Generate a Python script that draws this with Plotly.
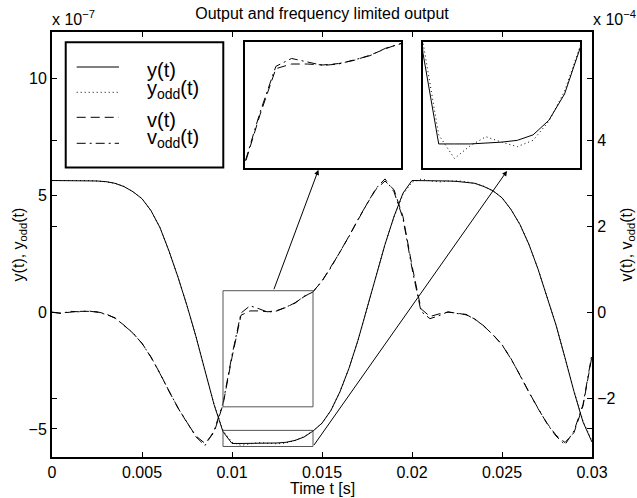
import plotly.graph_objects as go

# ---------------- data ----------------
t = [0.0000, 0.0005, 0.0010, 0.0015, 0.0020, 0.0025, 0.0030, 0.0035, 0.0040, 0.0045,
     0.0050, 0.0055, 0.0060, 0.0065, 0.0070, 0.0075, 0.0080, 0.0085, 0.0090, 0.0095,
     0.0100, 0.0105, 0.0110, 0.0115, 0.0120, 0.0125, 0.0130, 0.0135, 0.0140, 0.0145,
     0.0150, 0.0155, 0.0160, 0.0165, 0.0170, 0.0175, 0.0180, 0.0185, 0.0190, 0.0195,
     0.0200, 0.0205, 0.0210, 0.0215, 0.0220, 0.0225, 0.0230, 0.0235, 0.0240, 0.0245,
     0.0250, 0.0255, 0.0260, 0.0265, 0.0270, 0.0275, 0.0280, 0.0285, 0.0290, 0.0295,
     0.0300]

# y(t) in units of 1e-7
y_e7 = [5.64, 5.64, 5.64, 5.64, 5.63, 5.62, 5.59, 5.52, 5.38, 5.16,
        4.86, 4.35, 3.62, 2.62, 1.50, 0.28, -1.05, -2.50, -3.95, -5.12,
        -5.62, -5.62, -5.62, -5.615, -5.61, -5.60, -5.57, -5.49, -5.345, -5.09,
        -4.75, -4.20, -3.40, -2.40, -1.20, 0.15, 1.50, 2.90, 4.10, 5.10,
        5.64, 5.64, 5.64, 5.63, 5.62, 5.60, 5.57, 5.52, 5.38, 5.20,
        4.90, 4.40, 3.75, 2.90, 1.85, 0.70, -0.55, -1.95, -3.40, -4.70,
        -5.56]

# y_odd(t) in units of 1e-7
y_odd_e7 = [5.64, 5.65, 5.63, 5.64, 5.64, 5.62, 5.59, 5.52, 5.39, 5.15,
            4.87, 4.34, 3.63, 2.61, 1.51, 0.27, -1.04, -2.51, -3.93, -5.06,
            -5.57, -5.70, -5.63, -5.58, -5.61, -5.635, -5.60, -5.495, -5.33, -5.08,
            -4.76, -4.19, -3.41, -2.39, -1.21, 0.16, 1.49, 2.91, 4.08, 5.05,
            5.57, 5.70, 5.63, 5.58, 5.61, 5.63, 5.59, 5.51, 5.39, 5.19,
            4.91, 4.39, 3.76, 2.89, 1.86, 0.69, -0.54, -1.96, -3.38, -4.66,
            -5.52]

# v(t) in units of 1e-4
v_e4 = [0.00, -0.02, 0.00, 0.02, 0.02, 0.01, -0.04, -0.14, -0.30, -0.49,
        -0.72, -1.05, -1.42, -1.84, -2.22, -2.57, -2.88, -3.05, -2.80, -2.15,
        -1.05, -0.07, 0.03, 0.03, 0.01, 0.04, 0.11, 0.22, 0.36, 0.48,
        0.72, 1.05, 1.40, 1.77, 2.15, 2.52, 2.86, 3.05, 2.85, 2.22,
        1.08, 0.08, -0.10, -0.04, 0.00, -0.02, -0.06, -0.16, -0.33, -0.52,
        -0.76, -1.08, -1.47, -1.86, -2.24, -2.58, -2.86, -3.03, -2.80, -2.18,
        -1.02]

# v_odd(t) in units of 1e-4
v_odd_e4 = [0.00, -0.03, 0.02, 0.01, 0.03, 0.00, -0.05, -0.13, -0.31, -0.48,
            -0.73, -1.04, -1.43, -1.83, -2.23, -2.56, -2.90, -3.10, -2.76, -2.12,
            -1.00, -0.02, 0.15, 0.08, 0.00, 0.03, 0.12, 0.21, 0.37, 0.47,
            0.73, 1.04, 1.41, 1.76, 2.16, 2.51, 2.88, 3.10, 2.80, 2.18,
            1.02, 0.02, -0.15, -0.08, 0.01, -0.03, -0.05, -0.17, -0.32, -0.53,
            -0.75, -1.09, -1.46, -1.87, -2.23, -2.59, -2.88, -3.08, -2.76, -2.15,
            -0.97]

x_tickvals = [0, 0.005, 0.01, 0.015, 0.02, 0.025, 0.03]
x_ticktext = ["0", "0.005", "0.01", "0.015", "0.02", "0.025", "0.03"]
yl_tickvals = [-5, 0, 5, 10]
yr_tickvals = [-2, 0, 2, 4]

series_names = ["y(t)", "y<sub>odd</sub>(t)", "v(t)", "v<sub>odd</sub>(t)"]

# zoom windows (time and value ranges) shown in the insets
zoom_t = [0.0095, 0.0145]
zoomA_v = [-2.2, 0.5]      # v window, units 1e-4
zoomB_y = [-5.75, -5.06]   # y window, units 1e-7

# ---------------- styles ----------------
FONT = "Arial, Liberation Sans, sans-serif"
DOT = "1px,3px"
DASH = "9px,5px"
DASHDOT = "9px,4px,2px,4px"
styles = [dict(color="black", width=1, dash="solid"),
          dict(color="black", width=1, dash=DOT),
          dict(color="black", width=1, dash=DASH),
          dict(color="black", width=1, dash=DASHDOT)]

W, H = 637, 498
ML, MR, MT, MB = 52, 45, 32, 41
PW, PH = W - ML - MR, H - MT - MB


def px2paper(px, py):
    return (px - ML) / PW, (H - MB - py) / PH


fig = go.Figure()

# main plot
fig.add_trace(go.Scatter(x=t, y=y_e7, mode="lines", line=styles[0], xaxis="x", yaxis="y", showlegend=False))
fig.add_trace(go.Scatter(x=t, y=y_odd_e7, mode="lines", line=styles[1], xaxis="x", yaxis="y", showlegend=False))
fig.add_trace(go.Scatter(x=t, y=v_e4, mode="lines", line=styles[2], xaxis="x", yaxis="y2", showlegend=False))
fig.add_trace(go.Scatter(x=t, y=v_odd_e4, mode="lines", line=styles[3], xaxis="x", yaxis="y2", showlegend=False))
# inset 2: v, v_odd zoom
fig.add_trace(go.Scatter(x=t, y=v_e4, mode="lines", line=styles[2], xaxis="x3", yaxis="y3", showlegend=False))
fig.add_trace(go.Scatter(x=t, y=v_odd_e4, mode="lines", line=styles[3], xaxis="x3", yaxis="y3", showlegend=False))
# inset 3: y, y_odd zoom
fig.add_trace(go.Scatter(x=t, y=y_e7, mode="lines", line=styles[0], xaxis="x4", yaxis="y4", showlegend=False))
fig.add_trace(go.Scatter(x=t, y=y_odd_e7, mode="lines", line=styles[1], xaxis="x4", yaxis="y4", showlegend=False))

tickfont = dict(family=FONT, size=16, color="black")
common = dict(showgrid=False, zeroline=False, showline=True, linecolor="black",
              linewidth=2, ticks="inside", ticklen=5, tickwidth=1, tickcolor="black",
              tickfont=tickfont, automargin=False)

inset_ax = dict(showgrid=False, zeroline=False, showline=True, linecolor="black",
                linewidth=2, mirror=True, ticks="", showticklabels=False, automargin=False)

yl_range = [-6.2, 12]
yr_range = [-3.367, 6.516]

ins_y = [0.681, 0.976]
ins2_x = [0.3565, 0.6469]
ins3_x = [0.6870, 0.9783]
leg_x = [0.0254, 0.3172]

fig.update_layout(
    width=W, height=H, autosize=False,
    margin=dict(l=ML, r=MR, t=MT, b=MB, pad=0, autoexpand=False),
    paper_bgcolor="white", plot_bgcolor="white",
    font=dict(family=FONT, size=16, color="black"),
    title=dict(text="Output and frequency limited output", x=0.5, xref="paper",
               y=1 - 13 / H, yref="container", xanchor="center", yanchor="middle",
               font=dict(family=FONT, size=16, color="black")),
    xaxis=dict(range=[0, 0.03], tickvals=x_tickvals, ticktext=x_ticktext, mirror="ticks",
               ticklabelstandoff=0, **common),
    yaxis=dict(range=yl_range, tickvals=yl_tickvals, mirror="ticks",
               title=dict(text="y(t), y<sub>odd</sub>(t)", standoff=0, font=dict(family=FONT, size=16)),
               **common),
    yaxis2=dict(range=yr_range, tickvals=yr_tickvals, overlaying="y", side="right", mirror="ticks",
                title=dict(text="v(t), v<sub>odd</sub>(t)", standoff=10, font=dict(family=FONT, size=16)),
                **common),
    xaxis3=dict(domain=ins2_x, anchor="y3", range=zoom_t, **inset_ax),
    yaxis3=dict(domain=ins_y, anchor="x3", range=zoomA_v, **inset_ax),
    xaxis4=dict(domain=ins3_x, anchor="y4", range=zoom_t, **inset_ax),
    yaxis4=dict(domain=ins_y, anchor="x4", range=zoomB_y, **inset_ax),
)

shapes = []
# zoom rectangles in the main plot
shapes.append(dict(type="rect", xref="x", yref="y2", x0=zoom_t[0], x1=zoom_t[1],
                   y0=zoomA_v[0], y1=zoomA_v[1], line=dict(color="#555555", width=1)))
shapes.append(dict(type="rect", xref="x", yref="y", x0=zoom_t[0], x1=zoom_t[1],
                   y0=zoomB_y[0], y1=zoomB_y[1], line=dict(color="#555555", width=1)))
# legend box
shapes.append(dict(type="rect", xref="paper", yref="paper", x0=leg_x[0], x1=leg_x[1],
                   y0=ins_y[0], y1=ins_y[1], line=dict(color="black", width=2),
                   fillcolor="white", layer="below"))

annotations = []
leg_line_py = [67, 92.3, 117.3, 143.3]
leg_text_py = [70, 89, 120, 138]
for i, name in enumerate(series_names):
    xa, ya = px2paper(76.7, leg_line_py[i])
    xb, _ = px2paper(119, leg_line_py[i])
    shapes.append(dict(type="line", xref="paper", yref="paper", x0=xa, x1=xb, y0=ya, y1=ya,
                       line=styles[i]))
    xt, yt = px2paper(145, leg_text_py[i])
    annotations.append(dict(text=name, xref="paper", yref="paper", x=xt, y=yt,
                            xanchor="left", yanchor="middle", showarrow=False,
                            font=dict(family=FONT, size=20, color="black")))

# x-axis title
_, ytit = px2paper(0, 489)
annotations.append(dict(text="Time t [s]", xref="paper", yref="paper", x=0.5, y=ytit,
                        xanchor="center", yanchor="middle", showarrow=False,
                        font=dict(family=FONT, size=16, color="black")))

# arrows from zoom rectangles to insets
arrowA_tail = (0.0123, zoomA_v[1])
arrowA_head = (0.0148, 3.31)
arrowB_tail = (zoom_t[1], zoomB_y[0])
arrowB_head = (0.02528, 6.05)
annotations.append(dict(x=arrowA_head[0], y=arrowA_head[1], xref="x", yref="y2",
                        ax=arrowA_tail[0], ay=arrowA_tail[1], axref="x", ayref="y2",
                        text="", showarrow=True, arrowhead=2, arrowsize=1, arrowwidth=1,
                        arrowcolor="black", standoff=0, startstandoff=0))
annotations.append(dict(x=arrowB_head[0], y=arrowB_head[1], xref="x", yref="y",
                        ax=arrowB_tail[0], ay=arrowB_tail[1], axref="x", ayref="y",
                        text="", showarrow=True, arrowhead=2, arrowsize=1, arrowwidth=1,
                        arrowcolor="black", standoff=0, startstandoff=0))

# exponent labels
xe, ye = px2paper(50, 30)
annotations.append(dict(text="x 10<sup>\u22127</sup>", xref="paper", yref="paper", x=xe, y=ye,
                        xanchor="left", yanchor="bottom", showarrow=False,
                        font=dict(family=FONT, size=16, color="black")))
xe2, _ = px2paper(591, 30)
annotations.append(dict(text="x 10<sup>\u22124</sup>", xref="paper", yref="paper", x=xe2, y=ye,
                        xanchor="left", yanchor="bottom", showarrow=False,
                        font=dict(family=FONT, size=16, color="black")))

fig.update_layout(shapes=shapes, annotations=annotations)

fig.write_html("out.html", config={"displayModeBar": False},
               post_script="document.body.style.margin='0px';document.body.style.overflow='hidden';")
